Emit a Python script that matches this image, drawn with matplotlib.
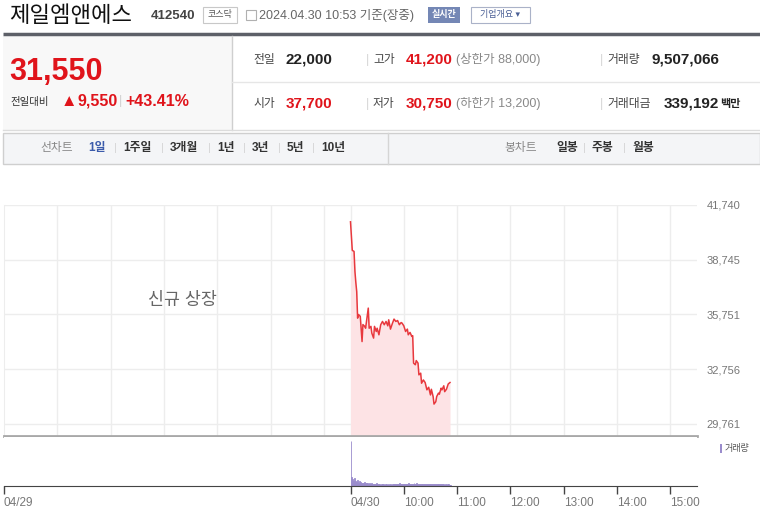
import matplotlib.pyplot as plt
from matplotlib.patches import Rectangle

plt.rcParams['font.family'] = ['Liberation Sans', 'Noto Sans CJK KR', 'DejaVu Sans']

RED = '#e0141b'
GRID = '#ededed'
GRAY = '#777777'

# ---- data ----
stock_name = '제일엠앤에스'
stock_code = '412540'
market = '코스닥'
as_of = '2024.04.30 10:53 기준(장중)'

current_price = '31,550'
change_abs = '9,550'
change_pct = '+43.41%'

row1 = [('전일', '22,000', '#222222', ''), ('고가', '41,200', RED, '(상한가 88,000)'),
        ('거래량', '9,507,066', '#222222', '')]
row2 = [('시가', '37,700', RED, ''), ('저가', '30,750', RED, '(하한가 13,200)'),
        ('거래대금', '339,192', '#222222', '백만')]

line_tabs = ['1일', '1주일', '3개월', '1년', '3년', '5년', '10년']
candle_tabs = ['일봉', '주봉', '월봉']

# minutes after 09:00 on 04/30
price_minutes = [0, 2, 4, 5, 6, 7, 8, 9, 11, 13, 14, 16, 17, 20, 21, 23, 24, 26, 27, 29,
                 30, 32, 34, 36, 38, 40, 42, 43, 45, 47, 49, 51, 53, 55, 57, 58, 60, 62,
                 64, 65, 67, 69, 70, 71, 73, 74, 76, 77, 79, 80, 82, 84, 86, 88, 90, 91,
                 93, 94, 96, 97, 99, 100, 102, 103, 105, 106, 108, 110, 112]
price_values = [40820, 39260, 39200, 38100, 37500, 37000, 35550, 35750, 35650, 34270, 35200,
                35100, 35000, 36100, 35000, 35100, 34730, 34460, 35100, 34820, 35000, 34640,
                35190, 35370, 35190, 35370, 35130, 35460, 34950, 35240, 35500, 35370, 35420,
                35190, 35310, 35280, 35130, 34820, 34950, 34640, 34770, 34550, 34590, 33090,
                33000, 33230, 33090, 32450, 32540, 31990, 32170, 32030, 31630, 31770, 31350,
                31660, 31260, 30850, 30980, 31260, 31450, 31390, 31720, 31630, 31850, 31530,
                31660, 31950, 32030]

volume_values = [1250, 260, 180, 150, 210, 140, 120, 160, 110, 90, 130,
                 100, 80, 95, 70, 110, 85, 60, 75, 90, 65,
                 70, 55, 80, 60, 50, 65, 45, 55, 70, 50,
                 45, 60, 40, 50, 55, 42, 48, 38, 52, 45,
                 40, 50, 36, 44, 58, 40, 46, 62, 48, 55,
                 42, 66, 50, 45, 70, 52, 48, 60, 44, 56,
                 50, 62, 46, 58, 72, 55, 60, 48, 64, 52,
                 80, 66, 58, 70, 54, 62, 50, 68, 56, 60,
                 52, 58, 48, 64, 50, 56, 46, 60, 52, 48,
                 55, 50, 62, 58, 46, 52, 48, 56, 44, 50,
                 46, 52, 42, 48, 40, 50, 44, 38, 46, 42, 36, 40]

y_ticks = [29761, 32756, 35751, 38745, 41740]
x_ticks = [0, 6.5, 7.5, 8.5, 9.5, 10.5, 11.5, 12.5]
x_labels = ['04/29', '04/30', '10:00', '11:00', '12:00', '13:00', '14:00', '15:00']
grid_hours = [1, 2, 3, 4, 5, 6, 6.5, 7.5, 8.5, 9.5, 10.5, 11.5, 12.5]

fig = plt.figure(figsize=(7.6, 5.13), dpi=100)

# ---- header / summary panel drawn in pixel coords ----
hd = fig.add_axes([0, 0, 1, 1])
hd.set_xlim(0, 760)
hd.set_ylim(513, 0)
hd.axis('off')


def t(x, y, s, **kw):
    kw.setdefault('ha', 'left')
    kw.setdefault('va', 'center')
    hd.text(x, y, s, **kw)


t(9, 16, stock_name, fontsize=16, color='#111111')
t(151, 16, stock_code, fontsize=9.5, fontweight='bold', color='#444444')
hd.add_patch(Rectangle((203, 7), 34, 16, fc='white', ec='#c8c8c8', lw=0.8))
t(220, 15, market, fontsize=6.5, color='#555555', ha='center')
hd.add_patch(Rectangle((246, 10), 10, 10, fc='white', ec='#b0b0b0', lw=0.8))
t(259, 16, as_of, fontsize=9, color='#666666')
hd.add_patch(Rectangle((428, 7), 32, 16, fc='#7487b5', ec='none'))
t(444, 15, '실시간', fontsize=6.5, color='white', ha='center', fontweight='bold')
hd.add_patch(Rectangle((471, 7), 59, 16, fc='white', ec='#aab2c8', lw=0.8))
t(500, 15, '기업개요 ▾', fontsize=6.5, color='#4a5f95', ha='center')

hd.plot([3, 760], [34, 34], color='#5d6068', lw=2.5, solid_capstyle='butt')
hd.add_patch(Rectangle((3, 36), 229, 94, fc='#f8f8f8', ec='none'))
hd.plot([232, 232], [36, 130], color='#cfcfcf', lw=1)
hd.plot([232, 760], [82, 82], color='#e6e6e6', lw=1)
hd.plot([3, 760], [130, 130], color='#dcdcdc', lw=1)

t(9, 72, current_price, fontsize=22, fontweight='bold', color=RED)
t(10, 102, '전일대비', fontsize=7.5, color='#333333')
t(61, 101, '▲', fontsize=12, color=RED)
t(77, 101, change_abs, fontsize=11.5, fontweight='bold', color=RED)
t(119, 101, '|', fontsize=9, color='#d0d0d0')
t(125, 101, change_pct, fontsize=11.5, fontweight='bold', color=RED)

col_x = [253, 373, 607]
for ry, row in [(60, row1), (104, row2)]:
    for i, (lab, val, col, extra) in enumerate(row):
        x0 = col_x[i]
        if i > 0:
            t(x0 - 7, ry, '|', fontsize=9, color='#d5d5d5')
        t(x0, ry, lab, fontsize=8.5, color='#444444')
        vpos = x0 + (33 if i < 2 else (45 if lab == '거래량' else 57))
        t(vpos, ry, val, fontsize=11, fontweight='bold', color=col)
        if extra.startswith('('):
            t(456, ry, extra, fontsize=9, color='#888888')
        elif extra:
            t(720, ry, extra, fontsize=8, color='#222222', fontweight='bold')

# tabs bar
hd.add_patch(Rectangle((3, 133), 757, 31, fc='#f4f5f7', ec='#cfcfcf', lw=1))
hd.plot([388, 388], [133, 164], color='#d5d5d5', lw=1)
t(40, 148, '선차트', fontsize=8.5, color='#888888')
tab_x = [88, 123, 170, 217, 252, 287, 321]
for i, (lab, x0) in enumerate(zip(line_tabs, tab_x)):
    if i > 0:
        t(x0 - 9, 148, '|', fontsize=8, color='#d5d5d5')
    t(x0, 148, lab, fontsize=8.5, fontweight='bold',
      color='#3b5bab' if i == 0 else '#333333')
t(504, 148, '봉차트', fontsize=8.5, color='#888888')
for i, (lab, x0) in enumerate(zip(candle_tabs, [556, 592, 632])):
    if i > 0:
        t(x0 - 9, 148, '|', fontsize=8, color='#d5d5d5')
    t(x0, 148, lab, fontsize=8.5, fontweight='bold', color='#333333')

# ---- price chart ----
ax = fig.add_axes([4 / 760, 77 / 513, 693 / 760, 231 / 513])
ph = [6.5 + m / 60 for m in price_minutes]
ax.fill_between(ph, price_values, 29104, color='#fde3e5', lw=0)
ax.plot(ph, price_values, color='#e8383d', lw=1.1)
ax.set_xlim(0, 13)
ax.set_ylim(29104, 41740)
ax.set_yticks(y_ticks)
ax.set_yticklabels([f'{v:,}' for v in y_ticks])
ax.yaxis.tick_right()
ax.tick_params(axis='y', length=0, pad=7, labelsize=8, labelcolor=GRAY)
ax.set_xticks([])
for v in y_ticks:
    ax.axhline(v, color=GRID, lw=1, zorder=0)
for h in grid_hours:
    ax.axvline(h, color=GRID, lw=1, zorder=0)
for s in ['top', 'right']:
    ax.spines[s].set_visible(False)
ax.spines['left'].set_color(GRID)
ax.spines['bottom'].set_color('#a8a8a8')
ax.spines['bottom'].set_linewidth(2)
ax.text(3.35, 36550, '신규 상장', fontsize=12.5, color='#666666', ha='center', va='center')

# ---- volume chart ----
vx = fig.add_axes([4 / 760, 27 / 513, 693 / 760, 49 / 513])
vh = [6.5 + m / 60 for m in range(len(volume_values))]
vx.bar(vh, volume_values, width=1 / 60, align='edge', color='#9a8ccc',
       edgecolor='#9a8ccc', lw=0.6)
vx.set_xlim(0, 13)
vx.set_ylim(0, 1350)
vx.set_yticks([])
vx.set_xticks(x_ticks)
vx.set_xticklabels(x_labels, ha='left')
vx.tick_params(axis='x', length=6, width=1, color='#444444', labelsize=8.5,
               labelcolor=GRAY, pad=2)
for s in ['top', 'right', 'left']:
    vx.spines[s].set_visible(False)
vx.spines['bottom'].set_color('#444444')
hd.add_patch(Rectangle((720, 444), 2, 9, fc='#9a8ccc', ec='none'))
t(725, 449, '거래량', fontsize=6.5, color='#555555')

fig.savefig('out.png', dpi=100)
